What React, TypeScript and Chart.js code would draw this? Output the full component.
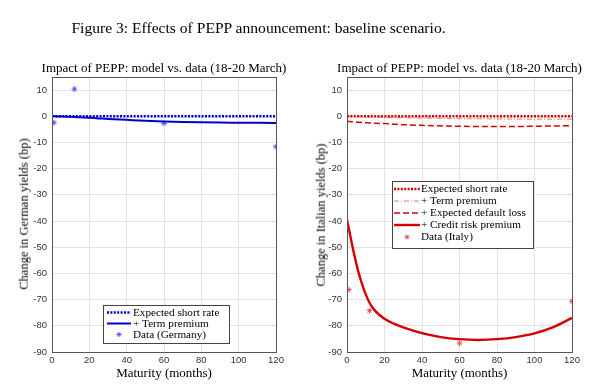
import React, { useEffect, useRef } from "react";
import { Chart, registerables } from "chart.js";

Chart.register(...registerables);

// ---------- data ----------
const maturities = [0, 1, 2, 3, 4, 5, 6, 8, 10, 12, 15, 20, 25, 30, 40, 50, 60, 70, 80, 90, 100, 110, 120];

// Germany
const deShortRate = [0, 0, 0, 0, 0, 0, 0, 0, 0, 0, 0, 0, 0, 0, 0, 0, 0, 0, 0, 0, 0, 0, 0];
const deTermPremium = [0, 0, -0.02, -0.05, -0.08, -0.1, -0.12, -0.16, -0.2, -0.28, -0.4, -0.6, -0.8, -1.0, -1.35, -1.7, -1.95, -2.15, -2.3, -2.4, -2.45, -2.5, -2.55];
const deDataMaturity = [1, 12, 60, 120];
const deDataValues = [-2.4, 10.4, -2.7, -11.6];

// Italy
const itShortRate = [0, 0, 0, 0, 0, 0, 0, 0, 0, 0, 0, 0, 0, 0, 0, 0, 0, 0, 0, 0, 0, 0, 0];
const itTermPremium = [0, -0.02, -0.04, -0.06, -0.08, -0.1, -0.12, -0.16, -0.2, -0.25, -0.3, -0.4, -0.5, -0.6, -0.7, -0.8, -0.9, -0.95, -1.0, -1.05, -1.1, -1.1, -1.1];
const itDefaultLoss = [-1.9, -2.0, -2.05, -2.1, -2.15, -2.2, -2.25, -2.35, -2.45, -2.55, -2.65, -2.8, -3.0, -3.2, -3.45, -3.65, -3.8, -3.9, -3.9, -3.9, -3.8, -3.7, -3.6];
const itCreditRisk = [-39.5, -43, -46.5, -50, -53.3, -56.3, -59.2, -64, -68, -71.2, -74.3, -77.3, -79.2, -80.6, -82.8, -84.3, -85.1, -85.4, -85.1, -84.3, -82.9, -80.5, -77];
const itDataMaturity = [1, 12, 60, 120];
const itDataValues = [-66.2, -74.2, -86.6, -70.7];

// axes
const xTicks = [0, 20, 40, 60, 80, 100, 120];
const yTicks = [-90, -80, -70, -60, -50, -40, -30, -20, -10, 0, 10];

const BLUE = "rgb(0,0,205)";
const BLUE_LIGHT = "rgb(80,80,255)";
const RED = "rgb(215,0,0)";
const RED_LIGHT = "rgb(238,80,80)";
const SERIF = "'Liberation Serif', 'DejaVu Serif', serif";

const pts = (xs: number[], ys: number[]) => xs.map((x, i) => ({ x, y: ys[i] }));

function drawStar(ctx: CanvasRenderingContext2D, cx: number, cy: number, r: number, color: string) {
  ctx.save();
  ctx.strokeStyle = color;
  ctx.lineWidth = 1;
  ctx.setLineDash([]);
  ctx.beginPath();
  for (let k = 0; k < 4; k++) {
    const a = (k * Math.PI) / 4;
    ctx.moveTo(cx - r * Math.cos(a), cy - r * Math.sin(a));
    ctx.lineTo(cx + r * Math.cos(a), cy + r * Math.sin(a));
  }
  ctx.stroke();
  ctx.restore();
}

const framePlugin = {
  id: "frame",
  afterDatasetsDraw(chart: any) {
    const { ctx, chartArea: a } = chart;
    ctx.save();
    ctx.strokeStyle = "#555";
    ctx.lineWidth = 1;
    ctx.strokeRect(Math.round(a.left) + 0.5, Math.round(a.top) + 0.5, Math.round(a.right - a.left), Math.round(a.bottom - a.top));
    ctx.restore();
  },
};

const legendPlugin = {
  id: "panelLegend",
  afterDraw(chart: any, _args: any, opts: any) {
    if (!opts || !opts.box) return;
    const { ctx } = chart;
    const b = opts.box;
    ctx.save();
    ctx.fillStyle = "#fff";
    ctx.fillRect(b.x, b.y, b.w, b.h);
    ctx.strokeStyle = "#444";
    ctx.lineWidth = 1;
    ctx.strokeRect(b.x + 0.5, b.y + 0.5, b.w, b.h);
    opts.items.forEach((it: any, i: number) => {
      const y = b.y + opts.firstRow + i * opts.rowGap;
      if (it.type === "line") {
        ctx.beginPath();
        ctx.setLineDash(it.dash || []);
        ctx.strokeStyle = it.color;
        ctx.lineWidth = it.width;
        ctx.moveTo(b.x + opts.lineX0, y);
        ctx.lineTo(b.x + opts.lineX1, y);
        ctx.stroke();
        ctx.setLineDash([]);
      } else {
        drawStar(ctx, b.x + (opts.lineX0 + opts.lineX1) / 2, y, 2.5, it.color);
      }
      ctx.fillStyle = "#000";
      ctx.font = opts.font;
      ctx.textBaseline = "middle";
      ctx.textAlign = "left";
      ctx.fillText(it.label, b.x + opts.textX, y + 0.5);
    });
    ctx.restore();
  },
};

function makeOptions(leftW: number, rightPad: number, legend: any) {
  const tickFont = { family: "'Liberation Sans', Arial, sans-serif", size: 9.5 };
  return {
    responsive: false,
    animation: false as const,
    layout: { padding: { left: 0, right: rightPad, top: 77, bottom: 0 } },
    plugins: {
      legend: { display: false },
      tooltip: { enabled: false },
      title: { display: false },
      panelLegend: legend,
    },
    scales: {
      x: {
        type: "linear" as const,
        min: 0,
        max: 120,
        afterBuildTicks: (s: any) => {
          s.ticks = xTicks.map((v) => ({ value: v }));
        },
        afterFit: (s: any) => {
          s.height = 39;
        },
        ticks: { font: tickFont, color: "#333", padding: 3, maxRotation: 0, autoSkip: false },
        grid: { color: "#e3e3e3", drawTicks: false },
        border: { display: false },
      },
      y: {
        type: "linear" as const,
        min: -90,
        max: 15,
        afterBuildTicks: (s: any) => {
          s.ticks = yTicks.map((v) => ({ value: v }));
        },
        afterFit: (s: any) => {
          s.width = leftW;
        },
        ticks: { font: tickFont, color: "#333", padding: 5, autoSkip: false },
        grid: { color: "#e3e3e3", drawTicks: false },
        border: { display: false },
      },
    },
  };
}

function Panel({ left, kind }: { left: number; kind: "de" | "it" }) {
  const ref = useRef<HTMLCanvasElement | null>(null);
  useEffect(() => {
    if (!ref.current) return;
    let datasets: any[];
    let legend: any;
    let leftW: number;
    let rightPad: number;
    if (kind === "de") {
      leftW = 52;
      rightPad = 24;
      datasets = [
        { data: pts(maturities, deShortRate), borderColor: BLUE, borderWidth: 2.6, borderDash: [2, 1.4], pointRadius: 0, fill: false },
        { data: pts(maturities, deTermPremium), borderColor: BLUE, borderWidth: 2, pointRadius: 0, fill: false, cubicInterpolationMode: "monotone" },
        { data: pts(deDataMaturity, deDataValues), showLine: false, pointStyle: "star", pointRadius: 2.8, borderColor: BLUE_LIGHT, borderWidth: 1 },
      ];
      legend = {
        box: { x: 103, y: 305, w: 126, h: 38 },
        firstRow: 7.5,
        rowGap: 11,
        lineX0: 4,
        lineX1: 28,
        textX: 30,
        font: `11.2px ${SERIF}`,
        items: [
          { type: "line", label: "Expected short rate", color: BLUE, width: 2.6, dash: [2, 1.4] },
          { type: "line", label: "+ Term premium", color: BLUE, width: 2 },
          { type: "star", label: "Data (Germany)", color: BLUE_LIGHT },
        ],
      };
    } else {
      leftW = 47;
      rightPad = 28;
      datasets = [
        { data: pts(maturities, itShortRate), borderColor: RED, borderWidth: 2.6, borderDash: [2, 1.4], pointRadius: 0, fill: false },
        { data: pts(maturities, itTermPremium), borderColor: RED_LIGHT, borderWidth: 0.8, borderDash: [5, 2, 1, 2], pointRadius: 0, fill: false },
        { data: pts(maturities, itDefaultLoss), borderColor: RED, borderWidth: 1.5, borderDash: [6, 3], pointRadius: 0, fill: false, cubicInterpolationMode: "monotone" },
        { data: pts(maturities, itCreditRisk), borderColor: RED, borderWidth: 2.4, pointRadius: 0, fill: false, cubicInterpolationMode: "monotone" },
        { data: pts(itDataMaturity, itDataValues), showLine: false, pointStyle: "star", pointRadius: 2.8, borderColor: RED_LIGHT, borderWidth: 1 },
      ];
      legend = {
        box: { x: 92, y: 181, w: 141, h: 67 },
        firstRow: 8,
        rowGap: 12,
        lineX0: 2,
        lineX1: 28,
        textX: 29,
        font: `11.2px ${SERIF}`,
        items: [
          { type: "line", label: "Expected short rate", color: RED, width: 2.6, dash: [2, 1.4] },
          { type: "line", label: "+ Term premium", color: RED_LIGHT, width: 0.8, dash: [5, 2, 1, 2] },
          { type: "line", label: "+ Expected default loss", color: RED, width: 1.5, dash: [6, 3] },
          { type: "line", label: "+ Credit risk premium", color: RED, width: 2.4 },
          { type: "star", label: "Data (Italy)", color: RED_LIGHT },
        ],
      };
    }
    const chart = new Chart(ref.current, {
      type: "line",
      data: { datasets },
      options: makeOptions(leftW, rightPad, legend) as any,
      plugins: [framePlugin, legendPlugin],
    });
    return () => chart.destroy();
  }, [kind]);
  return (
    <canvas
      ref={ref}
      width={300}
      height={391}
      style={{ position: "absolute", left, top: 0, width: 300, height: 391, display: "block" }}
    />
  );
}

const textBase: React.CSSProperties = {
  position: "absolute",
  fontFamily: SERIF,
  color: "#000",
  whiteSpace: "nowrap",
  transform: "translate(-50%, -50%)",
  lineHeight: 1,
};

export default function App() {
  return (
    <div style={{ position: "fixed", left: 0, top: 0, width: 600, height: 391, background: "#fff", overflow: "hidden" }}>
      <Panel left={0} kind="de" />
      <Panel left={300} kind="it" />
      <div style={{ ...textBase, left: 258.5, top: 28, fontSize: 15.6 }}>
        Figure 3: Effects of PEPP announcement: baseline scenario.
      </div>
      <div style={{ ...textBase, left: 164, top: 67, fontSize: 13 }}>Impact of PEPP: model vs. data (18-20 March)</div>
      <div style={{ ...textBase, left: 459.5, top: 67, fontSize: 13 }}>Impact of PEPP: model vs. data (18-20 March)</div>
      <div style={{ ...textBase, left: 164, top: 372, fontSize: 13 }}>Maturity (months)</div>
      <div style={{ ...textBase, left: 459.5, top: 372, fontSize: 13 }}>Maturity (months)</div>
      <div style={{ ...textBase, left: 24, top: 214, fontSize: 12.5, transform: "translate(-50%, -50%) rotate(-90deg)" }}>
        Change in German yields (bp)
      </div>
      <div style={{ ...textBase, left: 321, top: 215, fontSize: 12.5, transform: "translate(-50%, -50%) rotate(-90deg)" }}>
        Change in Italian yields (bp)
      </div>
    </div>
  );
}
